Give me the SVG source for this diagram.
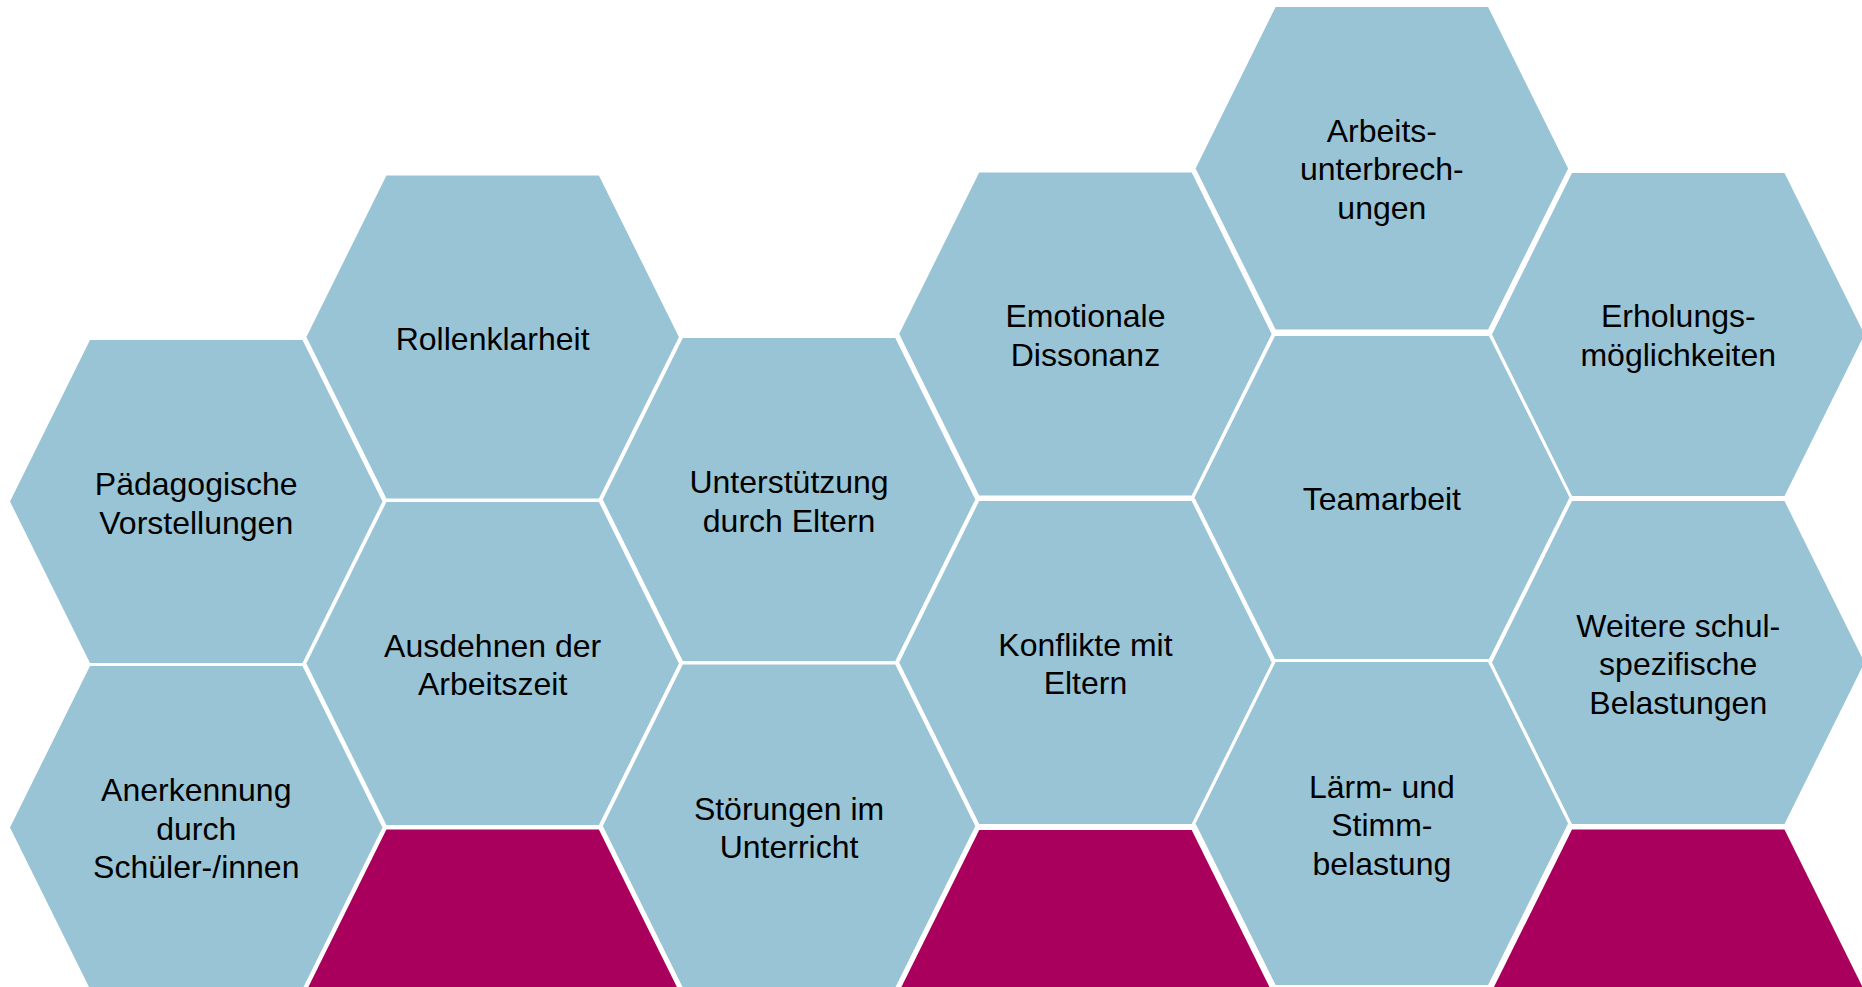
<svg xmlns="http://www.w3.org/2000/svg" width="1862" height="987" viewBox="0 0 1862 987">
<style>
.hex{fill:#99C4D6;}
.mag{fill:#A8005C;}
text{font-family:"Liberation Sans",Arial,sans-serif;font-size:32px;fill:#000;text-anchor:middle;}
</style>
<rect width="1862" height="987" fill="#FFFFFF"/>
<g id="hex-paedagogische">
<polygon class="hex" points="10,501.5 90,340 302.5,340 382.5,501.5 302.5,663 90,663"/>
<text x="196.25" y="495">Pädagogische</text>
<text x="196.25" y="533.5">Vorstellungen</text>
</g>
<g id="hex-anerkennung">
<polygon class="hex" points="10,827.5 90,666 302.5,666 382.5,827.5 302.5,989 90,989"/>
<text x="196.25" y="801">Anerkennung</text>
<text x="196.25" y="839.5">durch</text>
<text x="196.25" y="878">Schüler-/innen</text>
</g>
<g id="hex-rollenklarheit">
<polygon class="hex" points="306.4,337 386.4,175.5 598.9,175.5 678.9,337 598.9,498.5 386.4,498.5"/>
<text x="492.65" y="350">Rollenklarheit</text>
</g>
<g id="hex-ausdehnen">
<polygon class="hex" points="306.4,663.5 386.4,502 598.9,502 678.9,663.5 598.9,825 386.4,825"/>
<text x="492.65" y="656.5">Ausdehnen der</text>
<text x="492.65" y="695">Arbeitszeit</text>
</g>
<g id="hex-magenta-1">
<polygon class="mag" points="306.4,991 386.4,829.5 598.9,829.5 678.9,991 598.9,1152.5 386.4,1152.5"/>
</g>
<g id="hex-unterstuetzung">
<polygon class="hex" points="602.8,499.5 682.8,338 895.3,338 975.3,499.5 895.3,661 682.8,661"/>
<text x="789.05" y="493">Unterstützung</text>
<text x="789.05" y="531.5">durch Eltern</text>
</g>
<g id="hex-stoerungen">
<polygon class="hex" points="602.8,826 682.8,664.5 895.3,664.5 975.3,826 895.3,987.5 682.8,987.5"/>
<text x="789.05" y="819.5">Störungen im</text>
<text x="789.05" y="857.5">Unterricht</text>
</g>
<g id="hex-emotionale">
<polygon class="hex" points="899.2,334 979.2,172.5 1191.7,172.5 1271.7,334 1191.7,495.5 979.2,495.5"/>
<text x="1085.45" y="327">Emotionale</text>
<text x="1085.45" y="365.5">Dissonanz</text>
</g>
<g id="hex-konflikte">
<polygon class="hex" points="899.2,662.5 979.2,501 1191.7,501 1271.7,662.5 1191.7,824 979.2,824"/>
<text x="1085.45" y="655.5">Konflikte mit</text>
<text x="1085.45" y="694">Eltern</text>
</g>
<g id="hex-magenta-2">
<polygon class="mag" points="899.2,991.5 979.2,830 1191.7,830 1271.7,991.5 1191.7,1153 979.2,1153"/>
</g>
<g id="hex-arbeitsunterbrechungen">
<polygon class="hex" points="1195.6,168.5 1275.6,7 1488.1,7 1568.1,168.5 1488.1,329.5 1275.6,329.5"/>
<text x="1381.85" y="141.5">Arbeits-</text>
<text x="1381.85" y="180">unterbrech-</text>
<text x="1381.85" y="218.5">ungen</text>
</g>
<g id="hex-teamarbeit">
<polygon class="hex" points="1194.5,497.5 1275,336 1489,336 1569.5,497.5 1489,659 1275,659"/>
<text x="1381.85" y="510">Teamarbeit</text>
</g>
<g id="hex-laerm">
<polygon class="hex" points="1195.6,823.5 1275.6,662 1488.1,662 1568.1,823.5 1488.1,985 1275.6,985"/>
<text x="1381.85" y="797.5">Lärm- und</text>
<text x="1381.85" y="836">Stimm-</text>
<text x="1381.85" y="874.5">belastung</text>
</g>
<g id="hex-erholung">
<polygon class="hex" points="1492,334.5 1572,173 1784.5,173 1864.5,334.5 1784.5,496 1572,496"/>
<text x="1678.25" y="327">Erholungs-</text>
<text x="1678.25" y="365.5">möglichkeiten</text>
</g>
<g id="hex-weitere">
<polygon class="hex" points="1492,662.5 1572,501 1784.5,501 1864.5,662.5 1784.5,824 1572,824"/>
<text x="1678.25" y="636.5">Weitere schul-</text>
<text x="1678.25" y="675">spezifische</text>
<text x="1678.25" y="713.5">Belastungen</text>
</g>
<g id="hex-magenta-3">
<polygon class="mag" points="1492,991 1572,829.5 1784.5,829.5 1864.5,991 1784.5,1152.5 1572,1152.5"/>
</g>
<g id="connectors"></g>
</svg>
